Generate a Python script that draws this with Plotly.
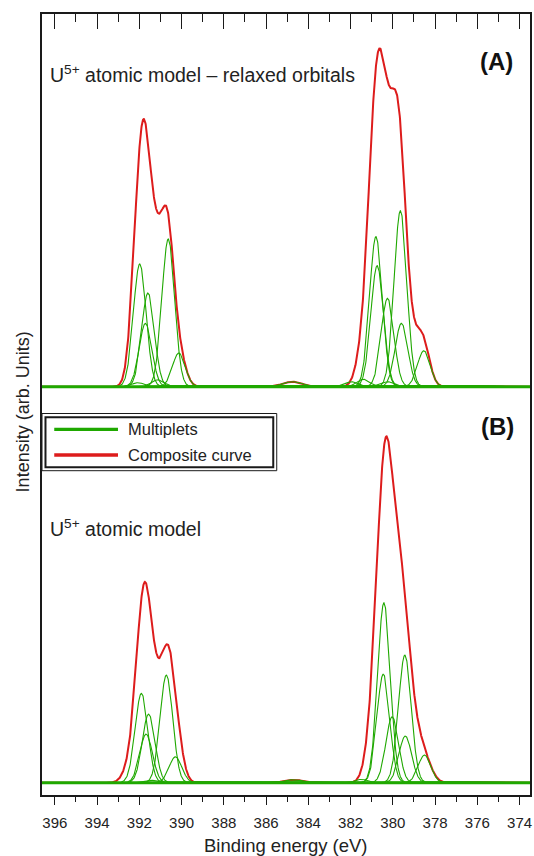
import numpy as np
import plotly.graph_objects as go

# ---------------- data (binding energy in eV, intensity in arb. units) ----------------
x_tick_values = [396, 394, 392, 390, 388, 386, 384, 382, 380, 378, 376, 374]
x_tick_labels = ["396", "394", "392", "390", "388", "386", "384", "382", "380", "378", "376", "374"]

# Panel (A): U5+ atomic model - relaxed orbitals  (multiplet lines: centre, height, gaussian width)
a_mult_center = [392.06, 391.98, 391.71, 391.59, 391.12, 390.63, 390.13, 384.75,
                 381.94, 381.39, 380.80, 380.74, 380.25, 380.22, 379.64, 379.59, 378.53]
a_mult_height = [4.0, 122.7, 63.3, 93.7, 7.0, 147.7, 33.7, 5.0,
                 5.0, 7.4, 150.0, 121.0, 88.4, 5.0, 176.0, 63.4, 36.0]
a_mult_width = [0.30, 0.30, 0.30, 0.30, 0.30, 0.30, 0.30, 0.45,
                0.30, 0.30, 0.30, 0.30, 0.30, 0.30, 0.30, 0.30, 0.30]

# Panel (A) composite curve components
a_comp_center = [392.10, 391.72, 391.20, 390.66, 390.10, 384.75,
                 381.45, 380.95, 380.55, 380.10, 379.70, 379.40, 378.95, 378.55]
a_comp_height = [120.0, 187.0, 105.0, 150.0, 28.0, 5.0,
                 30.0, 180.0, 210.0, 150.0, 180.0, 50.0, 25.0, 40.0]
a_comp_width = [0.30, 0.30, 0.30, 0.30, 0.30, 0.45,
                0.30, 0.30, 0.30, 0.30, 0.30, 0.30, 0.30, 0.30]

# Panel (B): U5+ atomic model
b_mult_center = [391.90, 391.68, 391.56, 391.30, 390.72, 390.29, 384.70,
                 381.48, 380.45, 380.42, 380.03, 379.43, 379.41, 378.50]
b_mult_height = [89.4, 48.7, 68.7, 2.5, 107.7, 26.0, 3.0,
                 3.4, 108.7, 180.0, 66.0, 127.7, 46.7, 27.7]
b_mult_width = [0.30, 0.30, 0.30, 0.30, 0.30, 0.30, 0.45,
                0.30, 0.30, 0.30, 0.30, 0.30, 0.30, 0.30]

b_comp_center = [392.50, 392.00, 391.65, 391.15, 390.65, 390.25, 384.70,
                 380.85, 380.40, 380.00, 379.50, 378.95, 378.50]
b_comp_height = [12.0, 90.0, 135.0, 65.0, 105.0, 40.0, 3.0,
                 60.0, 245.0, 120.0, 145.0, 30.0, 20.0]
b_comp_width = [0.30, 0.30, 0.30, 0.30, 0.30, 0.30, 0.45,
                0.35, 0.35, 0.35, 0.35, 0.35, 0.35]

a_offset = 396.1   # vertical offset of spectrum (A)
b_offset = 0.0

# ---------------- styling ----------------
GREEN = "#1fa800"
RED = "#dd1c1c"
AXIS = "#1a1a1a"
FONT = "Liberation Sans, Arial, Helvetica, sans-serif"

W, H = 534, 856
ML, MR, MT, MB = 42, 2, 14, 61
X_RANGE = [396.608, 373.506]
Y_RANGE = [-12.2, 768.8]

x = np.linspace(373.4, 396.7, 2331)


def gauss(c, h, w):
    return h * np.exp(-((x - c) ** 2) / (2.0 * w * w))


def px(v):
    return (v - ML) / (W - ML - MR)


def py(v):
    return (H - MB - v) / (H - MT - MB)


fig = go.Figure()

# composite curves (drawn first, multiplets on top)
for cen, hei, wid, off in [(a_comp_center, a_comp_height, a_comp_width, a_offset),
                           (b_comp_center, b_comp_height, b_comp_width, b_offset)]:
    y = sum(gauss(c, h, w) for c, h, w in zip(cen, hei, wid)) + off
    fig.add_trace(go.Scatter(x=x, y=y, mode="lines", line=dict(color=RED, width=2),
                             hoverinfo="skip", name="Composite curve"))

# multiplets
for cen, hei, wid, off in [(a_mult_center, a_mult_height, a_mult_width, a_offset),
                           (b_mult_center, b_mult_height, b_mult_width, b_offset)]:
    for c, h, w in zip(cen, hei, wid):
        fig.add_trace(go.Scatter(x=x, y=gauss(c, h, w) + off, mode="lines",
                                 line=dict(color=GREEN, width=1.1),
                                 hoverinfo="skip", name="Multiplets"))
    fig.add_trace(go.Scatter(x=x, y=0 * x + off, mode="lines",
                             line=dict(color=GREEN, width=3), hoverinfo="skip",
                             xaxis="x2", name="Multiplets"))

fig.update_layout(
    width=W, height=H,
    margin=dict(l=ML, r=MR, t=MT, b=MB, pad=0),
    paper_bgcolor="white", plot_bgcolor="white",
    showlegend=False,
    font=dict(family=FONT, color="#222"),
    xaxis=dict(range=X_RANGE, tickvals=x_tick_values, ticktext=x_tick_labels,
               ticks="outside", ticklen=8, tickwidth=1.2, tickcolor=AXIS,
               ticklabelstandoff=5,
               minor=dict(ticks="outside", ticklen=5, dtick=1, tick0=374,
                          tickwidth=1.2, tickcolor=AXIS),
               showline=True, mirror=True, linecolor=AXIS, linewidth=1.5,
               showgrid=False, zeroline=False,
               tickfont=dict(family=FONT, size=15, color="#222")),
    xaxis2=dict(range=X_RANGE, overlaying="x", side="top", tickvals=x_tick_values,
                ticks="inside", ticklen=15, tickwidth=1.2, tickcolor=AXIS,
                minor=dict(ticks="inside", ticklen=8, dtick=1, tick0=374,
                           tickwidth=1.2, tickcolor=AXIS),
                showticklabels=False, showline=False, showgrid=False, zeroline=False),
    yaxis=dict(range=Y_RANGE, showticklabels=False, ticks="", showline=True,
               mirror=True, linecolor=AXIS, linewidth=1.5, showgrid=False,
               zeroline=False),
)

ann = [
    dict(text="Intensity (arb. Units)", x=px(23.3), y=py(412), textangle=-90,
         font=dict(size=18), xanchor="center", yanchor="middle"),
    dict(text="Binding energy (eV)", x=px(286.6), y=py(845), font=dict(size=18.5),
         xanchor="center", yanchor="middle"),
    dict(text="<b>(A)</b>", x=px(498), y=py(61), font=dict(size=24, color="#111"),
         xanchor="center", yanchor="middle"),
    dict(text="<b>(B)</b>", x=px(499), y=py(427), font=dict(size=24, color="#111"),
         xanchor="center", yanchor="middle"),
    dict(text="U<sup>5+</sup> atomic model \u2013 relaxed orbitals", x=px(49.5), y=py(74),
         font=dict(size=19.5), xanchor="left", yanchor="middle"),
    dict(text="U<sup>5+</sup> atomic model", x=px(49), y=py(528),
         font=dict(size=19.5), xanchor="left", yanchor="middle"),
    dict(text="Multiplets", x=px(127), y=py(429.3), font=dict(size=16.5),
         xanchor="left", yanchor="middle"),
    dict(text="Composite curve", x=px(127), y=py(455), font=dict(size=16.5),
         xanchor="left", yanchor="middle"),
]
for a in ann:
    a.update(xref="paper", yref="paper", showarrow=False, borderpad=0)
fig.update_layout(annotations=ann)

shapes = [
    dict(type="rect", x0=px(42), x1=px(277.7), y0=py(413.5), y1=py(470.7),
         line=dict(color=AXIS, width=1), fillcolor="white", layer="above"),
    dict(type="rect", x0=px(45.5), x1=px(274.2), y0=py(417.2), y1=py(467.2),
         line=dict(color=AXIS, width=2), layer="above"),
    dict(type="line", x0=px(54.3), x1=px(118.3), y0=py(429.3), y1=py(429.3),
         line=dict(color=GREEN, width=3.3), layer="above"),
    dict(type="line", x0=px(54.3), x1=px(118.3), y0=py(455), y1=py(455),
         line=dict(color=RED, width=3.3), layer="above"),
]
for s in shapes:
    s.update(xref="paper", yref="paper")
fig.update_layout(shapes=shapes)

fig.write_html(
    "out.html",
    config={"responsive": False, "displayModeBar": False},
    post_script=(
        "document.documentElement.style.margin='0';"
        "document.body.style.margin='0';"
        "document.body.style.padding='0';"
        "document.documentElement.style.overflow='hidden';"
        "document.body.style.overflow='hidden';"
    ),
)
